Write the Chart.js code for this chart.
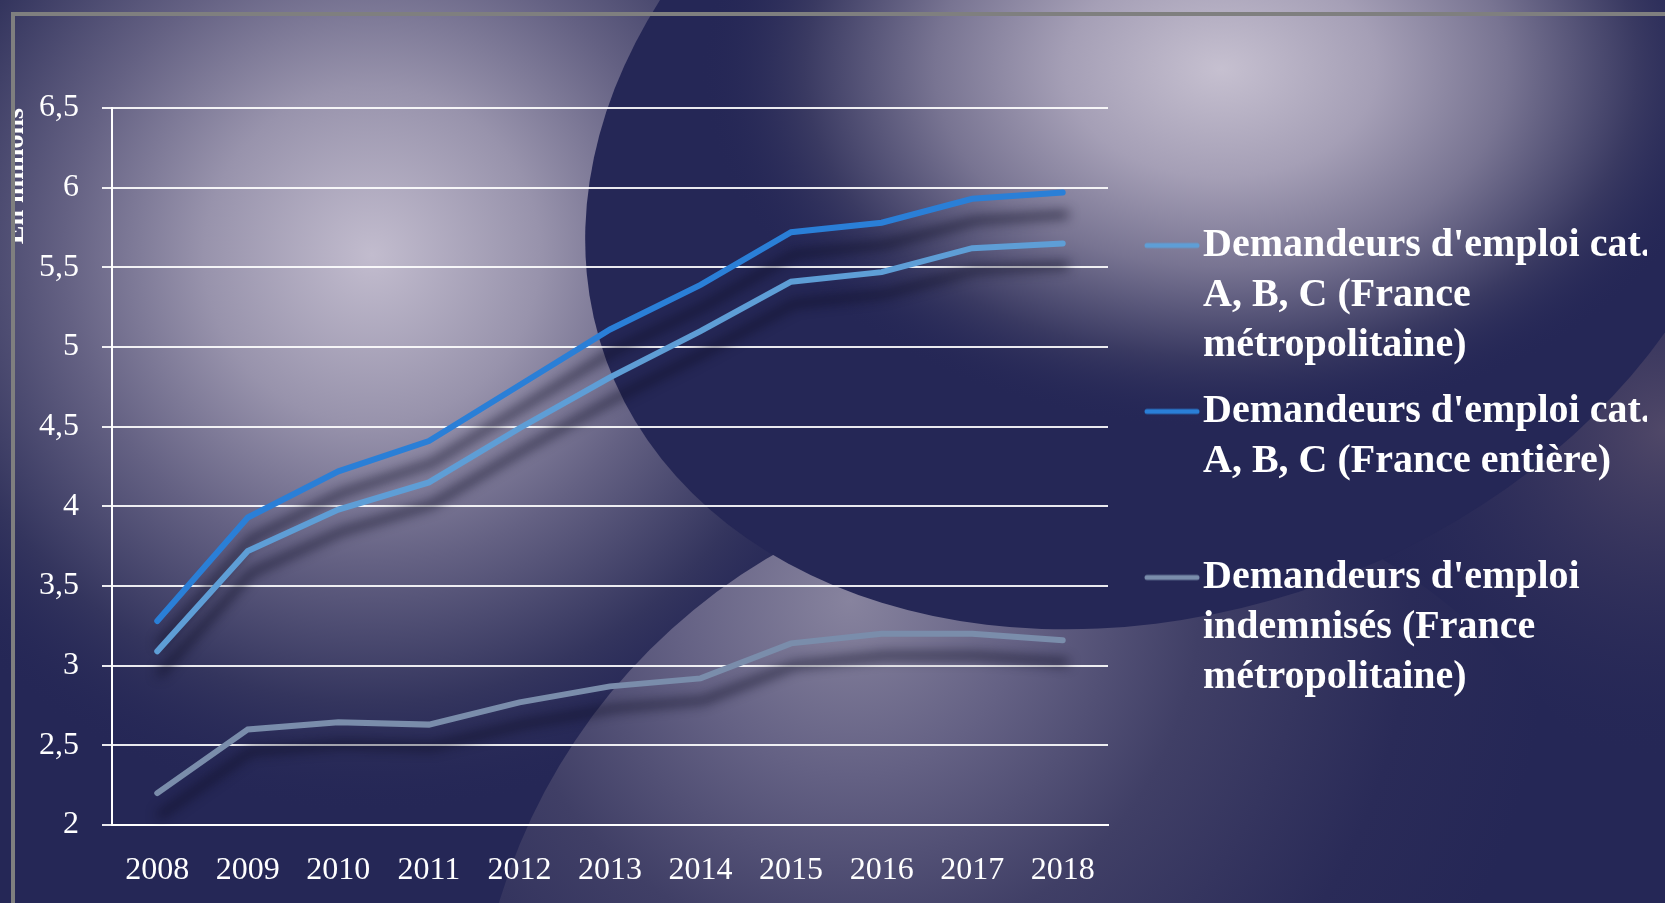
<!DOCTYPE html>
<html>
<head>
<meta charset="utf-8">
<script src="https://cdn.jsdelivr.net/npm/chart.js@4.4.1/dist/chart.umd.min.js"></script>
<style>
html, body { margin: 0; padding: 0; width: 1665px; height: 903px; overflow: hidden; background: #252756; }
#bg { position: absolute; left: 0; top: 0; }
#wrap { position: absolute; left: 14px; top: 0; width: 1651px; height: 903px; }
#frameTop { position: absolute; left: 11px; top: 12px; width: 1654px; height: 4px; background: #7f7f7f; }
#frameLeft { position: absolute; left: 11px; top: 12px; width: 4px; height: 891px; background: #7f7f7f; }
</style>
</head>
<body>
<canvas id="bg" width="1665" height="903"></canvas>
<div id="wrap"><canvas id="c" width="1651" height="903"></canvas></div>
<div id="frameTop"></div>
<div id="frameLeft"></div>
<script>
// ---------- data ----------
const years = ['2008', '2009', '2010', '2011', '2012', '2013', '2014', '2015', '2016', '2017', '2018'];
const seriesMetro = [3.09, 3.72, 3.98, 4.15, 4.49, 4.81, 5.10, 5.41, 5.47, 5.62, 5.65];
const seriesEntiere = [3.28, 3.93, 4.22, 4.41, 4.76, 5.11, 5.39, 5.72, 5.78, 5.93, 5.97];
const seriesIndemnises = [2.20, 2.60, 2.645, 2.63, 2.77, 2.87, 2.92, 3.14, 3.20, 3.20, 3.16];
const seriesLabels = [
  "Demandeurs d'emploi cat. A, B, C (France métropolitaine)",
  "Demandeurs d'emploi cat. A, B, C (France entière)",
  "Demandeurs d'emploi indemnisés (France métropolitaine)"
];
const legendLines = [
  ["Demandeurs d'emploi cat.", "A, B, C (France", "métropolitaine)"],
  ["Demandeurs d'emploi cat.", "A, B, C (France entière)", ""],
  ["Demandeurs d'emploi", "indemnisés (France", "métropolitaine)"]
];
const yTickLabels = ['2', '2,5', '3', '3,5', '4', '4,5', '5', '5,5', '6', '6,5'];
const yAxisTitle = 'En millions';

// ---------- styles ----------
const lineColors = ['#5e9ed6', '#2a7fd7', '#7a8dab'];
const NAVY = '#252756';

// ---------- background decoration ----------
(function drawBackground() {
  const bg = document.getElementById('bg').getContext('2d');
  const W = 1665, H = 903;
  bg.fillStyle = NAVY;
  bg.fillRect(0, 0, W, H);

  let g = bg.createRadialGradient(372, 255, 0, 372, 255, 560);
  g.addColorStop(0, 'rgb(194,188,206)');
  g.addColorStop(0.3, 'rgb(152,147,172)');
  g.addColorStop(0.55, 'rgb(100,97,131)');
  g.addColorStop(0.8, 'rgb(52,53,94)');
  g.addColorStop(1, 'rgba(37,39,86,0)');
  bg.fillStyle = g;
  bg.fillRect(0, 0, W, H);

  g = bg.createRadialGradient(1665, 430, 0, 1665, 430, 330);
  g.addColorStop(0, 'rgba(80,72,104,1)');
  g.addColorStop(1, 'rgba(37,39,86,0)');
  bg.fillStyle = g;
  bg.fillRect(0, 0, W, H);

  bg.save();
  bg.beginPath();
  bg.arc(1074, 1074, 600, 0, Math.PI * 2);
  bg.clip();
  g = bg.createRadialGradient(850, 600, 0, 850, 600, 700);
  g.addColorStop(0, 'rgb(135,131,158)');
  g.addColorStop(0.25, 'rgb(100,97,132)');
  g.addColorStop(0.5, 'rgb(64,63,102)');
  g.addColorStop(0.8, 'rgb(42,43,88)');
  g.addColorStop(1, NAVY);
  bg.fillStyle = g;
  bg.fillRect(0, 0, W, H);
  bg.restore();

  bg.save();
  bg.beginPath();
  bg.ellipse(1170, 155, 600, 455, -0.35, 0, Math.PI * 2);
  bg.clip();
  bg.fillStyle = NAVY;
  bg.fillRect(0, 0, W, H);
  bg.translate(1221, 69);
  bg.scale(1, 360 / 520);
  g = bg.createRadialGradient(0, 0, 0, 0, 0, 520);
  g.addColorStop(0, 'rgb(198,192,208)');
  g.addColorStop(0.3, 'rgb(165,159,182)');
  g.addColorStop(0.55, 'rgb(120,116,146)');
  g.addColorStop(0.8, 'rgb(58,58,98)');
  g.addColorStop(1, 'rgba(37,39,86,0)');
  bg.fillStyle = g;
  bg.fillRect(-3000, -3000, 6000, 6000);
  bg.restore();
})();

// ---------- legend markers ----------
function makeMarker(color) {
  const c = document.createElement('canvas');
  c.width = 80; c.height = 10;
  const x = c.getContext('2d');
  x.strokeStyle = color;
  x.lineWidth = 5;
  x.lineCap = 'round';
  x.beginPath();
  x.moveTo(24, 5);
  x.lineTo(74, 5);
  x.stroke();
  return c;
}
const markers = lineColors.map(makeMarker);

// ---------- shadow plugin ----------
const lineShadow = {
  id: 'lineShadow',
  beforeDatasetDraw(chart) {
    const ctx = chart.ctx;
    ctx.save();
    ctx.shadowColor = 'rgba(14,14,36,0.8)';
    ctx.shadowBlur = 12;
    ctx.shadowOffsetX = 3;
    ctx.shadowOffsetY = 22;
  },
  afterDatasetDraw(chart) {
    chart.ctx.restore();
  }
};

Chart.defaults.font.family = '"Liberation Serif", serif';
Chart.defaults.color = '#ffffff';

const seriesValues = [seriesMetro, seriesEntiere, seriesIndemnises];

new Chart(document.getElementById('c'), {
  type: 'line',
  data: {
    labels: years,
    datasets: seriesValues.map((vals, i) => ({
      label: seriesLabels[i],
      data: vals,
      borderColor: lineColors[i],
      backgroundColor: lineColors[i],
      borderWidth: 6,
      borderCapStyle: 'round',
      borderJoinStyle: 'miter',
      pointRadius: 0,
      pointHoverRadius: 0,
      tension: 0,
      fill: false
    }))
  },
  plugins: [lineShadow],
  options: {
    responsive: false,
    animation: false,
    events: [],
    layout: { padding: { top: 108, right: 18, bottom: 0, left: 0 } },
    scales: {
      x: {
        type: 'category',
        offset: true,
        grid: { display: false, drawTicks: false },
        border: { display: true, color: '#ffffff', width: 2 },
        ticks: {
          color: '#ffffff',
          font: { size: 32 },
          padding: 26,
          autoSkip: false,
          maxRotation: 0,
          minRotation: 0
        },
        afterFit(s) { s.height = 78; }
      },
      y: {
        type: 'linear',
        position: 'left',
        min: 2,
        max: 6.5,
        grid: { color: 'rgba(255,255,255,0.9)', lineWidth: 2, drawTicks: true, tickLength: 10 },
        border: { display: true, color: '#ffffff', width: 2 },
        ticks: {
          stepSize: 0.5,
          color: '#ffffff',
          font: { size: 32 },
          padding: 23,
          callback: (v, i) => yTickLabels[i]
        },
        title: {
          display: true,
          text: yAxisTitle,
          color: '#ffffff',
          align: 'end',
          font: { size: 28, weight: 'bold' },
          padding: { top: -15.3, bottom: 0 }
        },
        afterFit(s) { s.width = 98; }
      },
      gap: {
        type: 'linear',
        position: 'right',
        display: true,
        grid: { display: false, drawTicks: false },
        border: { display: false },
        ticks: { display: false },
        afterFit(s) { s.width = 19; }
      }
    },
    plugins: {
      tooltip: { enabled: false },
      title: { display: false },
      legend: {
        display: true,
        position: 'right',
        align: 'center',
        fullSize: false,
        maxWidth: 520,
        labels: {
          color: '#ffffff',
          font: { size: 40, weight: 'bold', lineHeight: 1.25 },
          padding: 16,
          usePointStyle: true,
          pointStyleWidth: 40,
          generateLabels(chart) {
            const items = Chart.defaults.plugins.legend.labels.generateLabels(chart);
            items.forEach((it, i) => {
              it.text = legendLines[i];
              it.pointStyle = markers[i];
              it.fontColor = '#ffffff';
            });
            return items;
          }
        }
      }
    }
  }
});
</script>
</body>
</html>
